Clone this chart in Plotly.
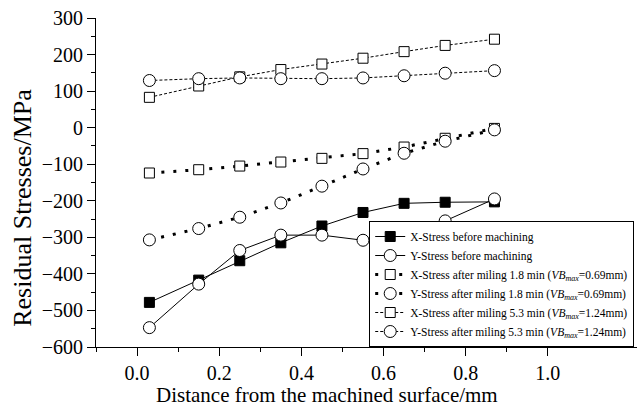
import plotly.graph_objects as go

depth = [0.03, 0.15, 0.25, 0.35, 0.45, 0.55, 0.65, 0.75, 0.87]

x_before = [-478, -417, -364, -315, -269, -232, -207, -204, -203]
y_before = [-547, -428, -336, -294, -294, -308, -297, -255, -195]
x_18 = [-124, -115, -105, -94, -84, -71, -53, -29, -2]
y_18 = [-307, -276, -245, -206, -160, -113, -70, -37, -6]
x_53 = [83, 114, 139, 159, 174, 190, 208, 225, 242]
y_53 = [129, 134, 136, 134, 134, 136, 142, 149, 156]

names = [
    "X-Stress before machining",
    "Y-Stress before machining",
    "X-Stress after miling 1.8 min (<i>VB</i><sub><i>max</i></sub>=0.69mm)",
    "Y-Stress after miling 1.8 min (<i>VB</i><sub><i>max</i></sub>=0.69mm)",
    "X-Stress after miling 5.3 min (<i>VB</i><sub><i>max</i></sub>=1.24mm)",
    "Y-Stress after miling 5.3 min (<i>VB</i><sub><i>max</i></sub>=1.24mm)",
]
x_title = "Distance from the machined surface/mm"
y_title = "Residual Stresses/MPa"

FONT = "Liberation Serif"

series = [
    (x_before, names[0], "square", "black", "solid", 1),
    (y_before, names[1], "circle", "white", "solid", 1),
    (x_18, names[2], "square", "white", "3px,9px", 3),
    (y_18, names[3], "circle", "white", "3px,9px", 3),
    (x_53, names[4], "square", "white", "3px,2px", 1),
    (y_53, names[5], "circle", "white", "3px,2px", 1),
]

fig = go.Figure()
for vals, nm, sym, fill, dash, lw in series:
    fig.add_trace(go.Scatter(
        x=depth, y=vals, name=nm, mode="lines+markers",
        line=dict(color="black", width=lw, dash=dash),
        marker=dict(symbol=sym, size=12 if sym == "circle" else 10, color=fill,
                    line=dict(color="black", width=1)),
    ))

fig.add_annotation(text=x_title, xref="paper", yref="paper", x=0.427, y=-0.145,
                   xanchor="center", yanchor="middle", showarrow=False,
                   font=dict(family=FONT, size=21, color="black"))
fig.add_annotation(text=y_title, xref="paper", yref="paper", x=-0.135, y=0.423,
                   xanchor="center", yanchor="middle", showarrow=False, textangle=-90,
                   font=dict(family=FONT, size=26, color="black"))

fig.update_layout(
    width=644, height=413,
    margin=dict(l=96, r=7, t=16, b=66),
    paper_bgcolor="white", plot_bgcolor="white",
    font=dict(family=FONT, size=20, color="black"),
    showlegend=True,
    legend=dict(
        x=0.505, y=0.0, xanchor="left", yanchor="bottom",
        bgcolor="white", bordercolor="black", borderwidth=1,
        font=dict(family=FONT, size=11.5, color="black"),
        tracegroupgap=0, itemwidth=30,
    ),
    xaxis=dict(
        range=[-0.1, 1.217],
        tickvals=[0.0, 0.2, 0.4, 0.6, 0.8, 1.0],
        ticktext=["0.0", "0.2", "0.4", "0.6", "0.8", "1.0"],
        ticks="outside", ticklen=8, tickwidth=1, tickcolor="black",
        minor=dict(tickvals=[-0.1, 0.1, 0.3, 0.5, 0.7, 0.9], ticks="outside",
                   ticklen=4, tickcolor="black"),
        showline=True, linecolor="black", linewidth=1,
        showgrid=False, zeroline=False,
    ),
    yaxis=dict(
        range=[-600, 300], dtick=100, tick0=0,
        ticks="outside", ticklen=8, tickwidth=1, tickcolor="black",
        minor=dict(dtick=50, tick0=0, ticks="outside", ticklen=4, tickcolor="black"),
        showline=True, linecolor="black", linewidth=1,
        showgrid=False, zeroline=False,
    ),
)

fig.write_html("out.html")
